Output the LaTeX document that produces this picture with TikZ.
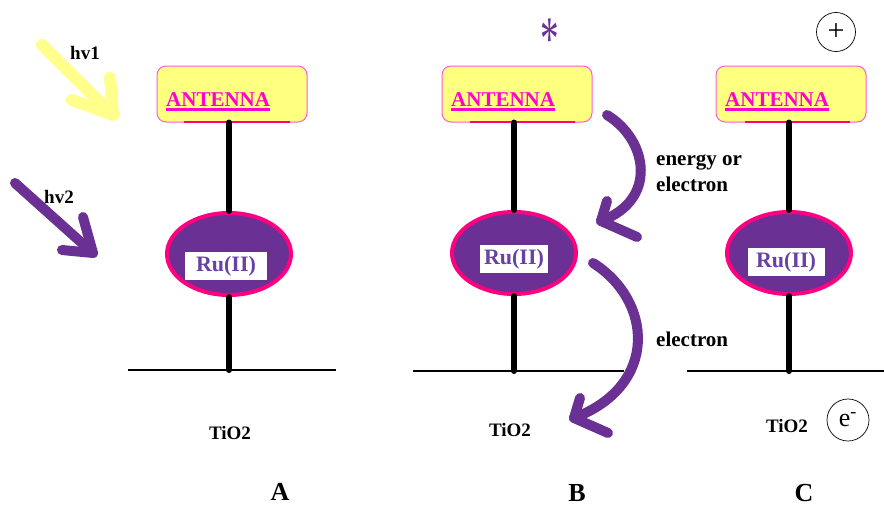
\documentclass[tikz,border=0pt]{standalone}
\usepackage{fontspec}
\setmainfont{Liberation Serif}
\usetikzlibrary{shapes.geometric}
\definecolor{antfill}{RGB}{255,255,128}
\definecolor{antborder}{RGB}{255,90,220}
\definecolor{anttext}{RGB}{255,0,204}
\definecolor{rufill}{RGB}{107,48,147}
\definecolor{ruborder}{RGB}{255,0,128}
\definecolor{rutext}{RGB}{105,65,165}
\definecolor{lightyel}{RGB}{255,255,140}
\definecolor{handpurple}{RGB}{107,48,147}
\begin{document}
\begin{tikzpicture}[x=1pt,y=-1pt,
  antbox/.style={draw=antborder, fill=antfill, rounded corners=9pt, minimum width=150pt, minimum height=56pt, line width=1pt, inner sep=0pt},
  anttxt/.style={anchor=base west, inner sep=0pt, text=anttext, font=\bfseries\fontsize{21}{24}\selectfont},
  antline/.style={draw=anttext, line width=2.2pt},
  shadowline/.style={draw=ruborder, line width=2.5pt},
  ruell/.style={ellipse, draw=ruborder, fill=rufill, line width=4pt, minimum width=124pt, minimum height=82pt, inner sep=0pt},
  rulab/.style={fill=white, minimum height=28pt, inner sep=0pt, text=rutext, font=\bfseries\fontsize{22}{24}\selectfont},
  stem/.style={line width=6pt, line cap=round},
  base/.style={line width=2.5pt},
  lbl/.style={font=\bfseries\fontsize{19}{22}\selectfont, inner sep=0pt},
  side/.style={font=\bfseries\fontsize{21}{26}\selectfont, inner sep=0pt, anchor=west, align=left},
  panel/.style={font=\bfseries\fontsize{26}{30}\selectfont, inner sep=0pt},
  hand/.style={line width=10pt, line cap=round, line join=round},
  ring/.style={draw, line width=0.7pt}
]
\useasboundingbox (0,0) rectangle (884,506);

% ---------- Panel A ----------
\node[antbox] (antA) at (232,94) {};
\draw[shadowline] (184,122) -- (290,122);
\node[anttxt] (antAt) at (166,106) {ANTENNA};
\draw[antline] ([yshift=-3.5pt]antAt.base west) -- ([yshift=-3.5pt]antAt.base east);
\node[ruell] (ruA) at (229,254) {};
\node[rulab, minimum width=82pt] (ruAl) at (226,266) {Ru(II)};
\coordinate (bAl) at (128,370);
\coordinate (bAr) at (336,370);
\coordinate (bAm) at (229,370);
\draw[base] (bAl) -- (bAr);
\draw[stem] (antA.south -| ruA.north) -- (ruA.north);
\draw[stem] (ruA.south) -- (bAm);
\node[lbl] (tiA) at (230,433) {TiO2};
\node[panel] (pA) at (280,492) {A};

% ---------- Panel B ----------
\node[antbox] (antB) at (517,94) {};
\draw[shadowline] (470,122) -- (575,122);
\node[anttxt] (antBt) at (451,106) {ANTENNA};
\draw[antline] ([yshift=-3.5pt]antBt.base west) -- ([yshift=-3.5pt]antBt.base east);
\node[ruell] (ruB) at (514,253) {};
\node[rulab, minimum width=68pt] (ruBl) at (514,259) {Ru(II)};
\coordinate (bBl) at (413,371);
\coordinate (bBr) at (624,371);
\coordinate (bBm) at (514,371);
\draw[base] (bBl) -- (bBr);
\draw[stem] (antB.south -| ruB.north) -- (ruB.north);
\draw[stem] (ruB.south) -- (bBm);
\node[lbl] (tiB) at (510,430) {TiO2};
\node[panel] (pB) at (577,493) {B};
\node[inner sep=0pt, anchor=base, text=handpurple, font=\fontsize{62}{62}\selectfont] (star) at (550,59) {\scalebox{0.6}[1]{*}};

% ---------- Panel C ----------
\node[antbox] (antC) at (791,94) {};
\draw[shadowline] (745,122) -- (850,122);
\node[anttxt] (antCt) at (725,106) {ANTENNA};
\draw[antline] ([yshift=-3.5pt]antCt.base west) -- ([yshift=-3.5pt]antCt.base east);
\node[ruell] (ruC) at (789,253) {};
\node[rulab, minimum width=77pt] (ruCl) at (786,262) {Ru(II)};
\coordinate (bCl) at (687,371);
\coordinate (bCr) at (884,371);
\coordinate (bCm) at (789,371);
\draw[base] (bCl) -- (bCr);
\draw[stem] (antC.south -| ruC.north) -- (ruC.north);
\draw[stem] (ruC.south) -- (bCm);
\node[lbl] (tiC) at (787,426) {TiO2};
\node[panel] (pC) at (804,493) {C};
\node[circle, ring, minimum size=39pt, inner sep=0pt, font=\fontsize{30}{30}\selectfont] (plus) at (836,32) {+};
\node[circle, ring, minimum size=42pt, inner sep=0pt, font=\fontsize{26}{26}\selectfont] (elec) at (848,420) {e\textsuperscript{-}};

% ---------- Light arrows ----------
\node[lbl] (hv1) at (85,53) {hv1};
\coordinate (y1s) at (42,45);
\coordinate (y1e) at (113,115);
\draw[hand, lightyel, line width=12pt] (y1s) -- (y1e);
\draw[hand, lightyel, line width=12pt] (110,78) -- (y1e) -- (72,100);

\node[lbl] (hv2) at (59,197) {hv2};
\coordinate (p2s) at (15,183);
\coordinate (p2e) at (93,253);
\draw[hand, handpurple] (p2s) -- (p2e);
\draw[hand, handpurple] (83,217) -- (p2e) -- (62,250);

% ---------- Transfer arrows ----------
\coordinate (c1s) at (607,115);
\coordinate (c1e) at (601,221);
\draw[hand, handpurple] (c1s) .. controls (648,140) and (658,200) .. (c1e);
\draw[hand, handpurple] (607,201) -- (c1e) -- (637,237);
\node[side] (energy) at (656,173) {energy or\\electron};

\coordinate (c2s) at (593,263);
\coordinate (c2e) at (574,418);
\draw[hand, handpurple] (c2s) .. controls (652,300) and (660,385) .. (c2e);
\draw[hand, handpurple] (580,398) -- (c2e) -- (608,433);
\node[side] (eltr) at (656,339) {electron};
\end{tikzpicture}
\end{document}
